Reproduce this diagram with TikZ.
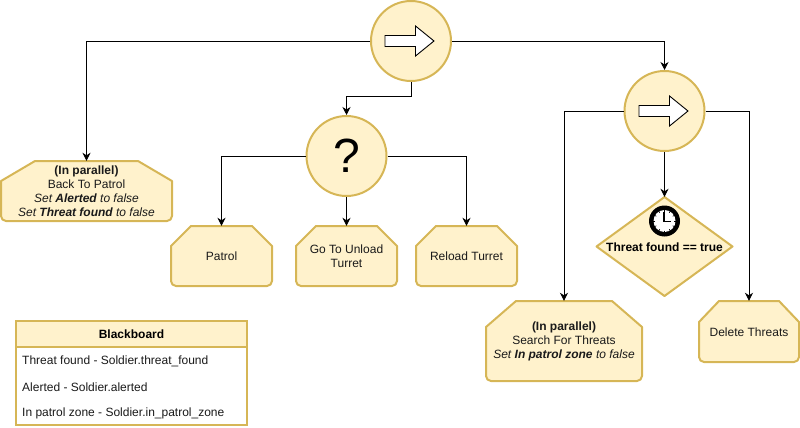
\documentclass[tikz,border=0pt]{standalone}
\usepackage{fontspec}
\setmainfont{Liberation Sans}
\usetikzlibrary{arrows.meta}
\definecolor{yfill}{HTML}{FFF2CC}
\definecolor{ystroke}{HTML}{D6B656}
\definecolor{txt}{HTML}{1A1A1A}
\tikzset{
  x=1pt,y=-1pt,
  shapeline/.style={draw=ystroke,fill=yfill,line width=2pt,line join=round},
  circ/.style={circle,shapeline,minimum size=80pt,inner sep=0pt},
  label text/.style={inner sep=0pt,align=center,text=txt,font=\fontsize{12pt}{14pt}\selectfont},
  conn/.style={draw=black,line width=0.9pt,-{Stealth[length=8pt,width=8pt,inset=2.5pt]}},
  blockarrow/.style={draw=black,fill=white,line width=0.9pt,line join=miter},
  rowtext/.style={label text,anchor=west,align=left},
}
% name, left, top, width, height, chamfer x, chamfer y, text
\newcommand{\actionnode}[8]{%
  \path[shapeline] (#2+#6,#3) -- (#2+#4-#6,#3)
    -- (#2+#4,#3+#7)
    [rounded corners=5pt] -- (#2+#4,#3+#5) -- (#2,#3+#5)
    [sharp corners] -- (#2,#3+#7) -- cycle;
  \node[minimum width=#4pt,minimum height=#5pt,inner sep=0pt] (#1) at (#2+#4/2,#3+#5/2) {};
  \node[label text] (#1text) at (#2+#4/2,#3+#5/2+0.7) {#8};
}
% centre x, centre y
\newcommand{\blockarrowat}[2]{%
  \path[blockarrow] (#1-25,#2-5.5) -- (#1+5.5,#2-5.5) -- (#1+5.5,#2-15) -- (#1+24,#2)
    -- (#1+5.5,#2+15) -- (#1+5.5,#2+5.5) -- (#1-25,#2+5.5) -- cycle;
}
\begin{document}
\begin{tikzpicture}
\useasboundingbox (0,0) rectangle (800,428);

\node[circ] (seqA) at (411,41) {};
\blockarrowat{410}{41}
\node[circ] (seqB) at (664.5,111) {};
\blockarrowat{664}{111}
\node[circ,font=\fontsize{48pt}{50pt}\selectfont,text=black] (sel) at (346.5,156) {?};

\actionnode{back}{1}{161}{171}{60}{34}{20}{\textbf{(In parallel)}\\Back To Patrol\\\textit{Set \textbf{Alerted} to false}\\\textit{Set \textbf{Threat found} to false}}
\actionnode{patrol}{171}{226}{101}{60}{20}{20}{Patrol}
\actionnode{unload}{296}{226}{101}{60}{20}{20}{Go To Unload\\Turret}
\actionnode{reload}{416}{226}{101}{60}{20}{20}{Reload Turret}
\actionnode{search}{486}{301}{156}{80}{30}{26}{\textbf{(In parallel)}\\Search For Threats\\\textit{Set \textbf{In patrol zone} to false}}
\actionnode{delete}{699}{301}{100}{61}{20}{21}{Delete Threats}

\path[shapeline] (664.5,197) -- (732.5,246.5) -- (664.5,296) -- (596.5,246.5) -- cycle;
\node[minimum width=136pt,minimum height=99pt,inner sep=0pt] (cond) at (664.5,246.5) {};
\node[label text,text=black,font=\fontsize{12pt}{14pt}\selectfont\bfseries] (condtext) at (664.5,247) {Threat found == true};

% clock icon
\fill[black] (664.5,221) circle (15.5);
\fill[white] (664.5,221) circle (11);
\draw[black,line width=1.3pt,line cap=butt] (664,212) -- (664,221.5) -- (671,221.5);
\foreach \a in {0,30,...,330}{\draw[black,line width=0.6pt] (664.5,221) ++(\a:9.5) -- ++(\a:1.6);}

% connectors
\draw[conn] (seqA.west) -| (back.north);
\draw[conn] (seqA.south) |- (346.5,96) -- (sel.north);
\draw[conn] (seqA.east) -| (seqB.north);
\draw[conn] (sel.west) -| (patrol.north);
\draw[conn] (sel.south) -- (unload.north);
\draw[conn] (sel.east) -| (reload.north);
\draw[conn] (seqB.west) -| (search.north);
\draw[conn] (seqB.south) -- (cond.north);
\draw[conn] (seqB.east) -| (delete.north);

% blackboard
\node[draw=ystroke,fill=white,line width=2pt,minimum width=231pt,minimum height=104pt,inner sep=0pt] (board) at (131.5,373) {};
\node[draw=ystroke,fill=yfill,line width=2pt,minimum width=231pt,minimum height=26pt,inner sep=0pt] (boardhead) at (131.5,334) {};
\node[label text,text=black,font=\fontsize{12pt}{14pt}\selectfont\bfseries] (boardtitle) at (131.5,334.7) {Blackboard};
\node[rowtext] (rowA) at (22,361) {Threat found - Soldier.threat\_found};
\node[rowtext] (rowB) at (22,387) {Alerted - Soldier.alerted};
\node[rowtext] (rowC) at (22,413) {In patrol zone - Soldier.in\_patrol\_zone};
\end{tikzpicture}
\end{document}
